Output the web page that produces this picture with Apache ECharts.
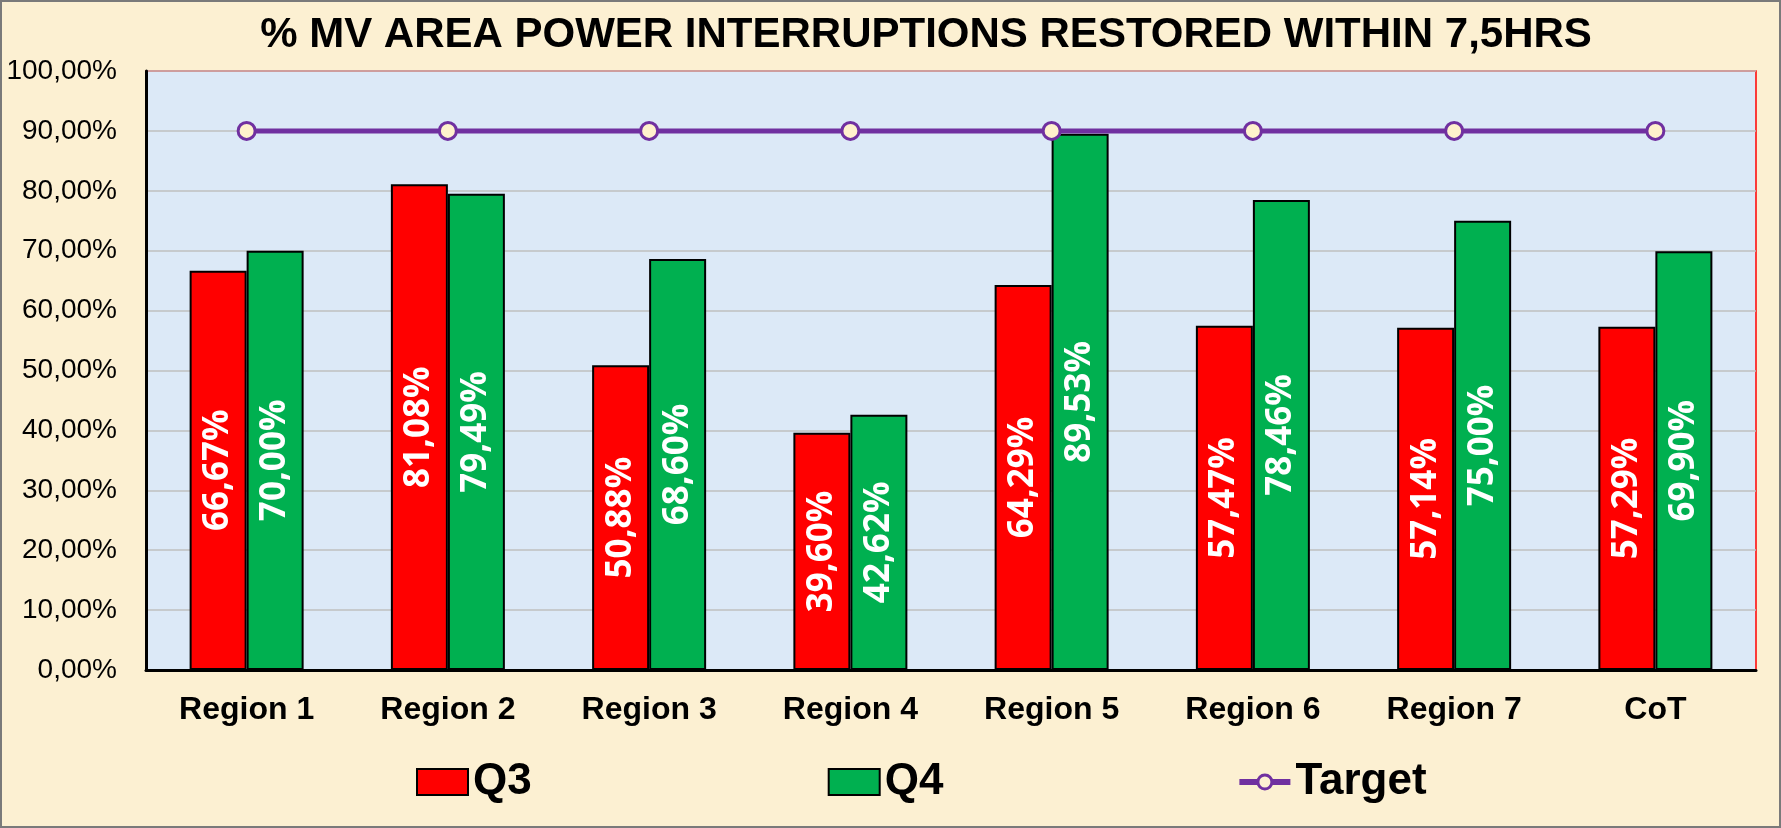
<!DOCTYPE html>
<html>
<head>
<meta charset="utf-8">
<script src="https://cdn.jsdelivr.net/npm/echarts@6/dist/echarts.min.js"></script>
<style>
  html, body { margin: 0; padding: 0; background: #fcf0d2; }
  #main { width: 1781px; height: 828px; position: relative; }
  #frame { position: absolute; left: 0; top: 0; width: 1781px; height: 828px;
           box-sizing: border-box; border: 2px solid #7a7a7a; pointer-events: none; }
</style>
</head>
<body>
<div style="position: relative; width: 1781px; height: 828px;">
  <div id="main"></div>
  <div id="frame"></div>
</div>
<script>
var regions = ["Region 1", "Region 2", "Region 3", "Region 4", "Region 5", "Region 6", "Region 7", "CoT"];
var q3 = [66.67, 81.08, 50.88, 39.60, 64.29, 57.47, 57.14, 57.29];
var q4 = [70.00, 79.49, 68.60, 42.62, 89.53, 78.46, 75.00, 69.90];
var target = [90, 90, 90, 90, 90, 90, 90, 90];

function pct(v) {
  return v.toFixed(2).replace(".", ",") + "%";
}

// legend icon for the target: thick line with a hollow ring in the middle (51x26 box)
var targetIcon = "path://M0 0Z M51 26Z " +
  "M0 10 L17.5 10 L17.5 16 L0 16 Z " +
  "M33.5 10 L51 10 L51 16 L33.5 16 Z " +
  "M17 13 A8.5 8.5 0 1 1 34 13 A8.5 8.5 0 1 1 17 13 Z " +
  "M20 13 A5.5 5.5 0 1 0 31 13 A5.5 5.5 0 1 0 20 13 Z";

var barLabel = {
  show: true,
  position: "inside",
  rotate: 90,
  color: "#fff",
  fontFamily: "Open Sans",
  fontStyle: "normal",
  fontWeight: "bold",
  fontSize: 35,
  formatter: function (p) { return pct(p.value); }
};

var myChart = echarts.init(document.getElementById("main"));
myChart.setOption({
  backgroundColor: "#fcf0d2",
  animation: false,
  title: {
    text: "% MV AREA POWER INTERRUPTIONS RESTORED WITHIN 7,5HRS",
    left: 921,
    textAlign: "center",
    top: 9,
    textStyle: { fontFamily: "Liberation Sans", fontWeight: "bold", fontSize: 42, color: "#000" }
  },
  legend: {
    left: 411,
    top: 755,
    itemGap: 296,
    itemWidth: 51,
    itemHeight: 26,
    textStyle: { fontFamily: "Liberation Sans", fontWeight: "bold", fontSize: 44, color: "#000" },
    data: [
      { name: "Q3", icon: "rect" },
      { name: "Q4", icon: "rect" },
      { name: "Target", icon: targetIcon, itemStyle: { color: "#7030a0", borderWidth: 0 } }
    ]
  },
  grid: {
    left: 146,
    right: 25,
    top: 71,
    bottom: 158,
    show: true,
    backgroundColor: "#dce9f7",
    borderColor: "#ff0000",
    borderWidth: 1.5
  },
  xAxis: {
    type: "category",
    data: regions,
    axisLine: { lineStyle: { color: "#000", width: 3 } },
    axisTick: { show: false },
    axisLabel: { margin: 24, fontFamily: "Liberation Sans", fontWeight: "bold", fontSize: 32, color: "#000" }
  },
  yAxis: {
    type: "value",
    min: 0,
    max: 100,
    interval: 10,
    axisLine: { show: true, lineStyle: { color: "#000", width: 3 } },
    axisTick: { show: false },
    splitLine: { lineStyle: { color: "#bfbfbf", width: 1.5 } },
    axisLabel: { margin: 29, fontFamily: "Liberation Sans", fontSize: 28, color: "#000",
                 formatter: function (v) { return pct(v); } }
  },
  series: [
    {
      name: "Q3",
      type: "bar",
      data: q3,
      barWidth: 57,
      barGap: "0%",
      itemStyle: { color: "#ff0000", borderColor: "#000", borderWidth: 2 },
      label: barLabel
    },
    {
      name: "Q4",
      type: "bar",
      data: q4,
      barWidth: 57,
      barGap: "0%",
      itemStyle: { color: "#00b050", borderColor: "#000", borderWidth: 2 },
      label: barLabel
    },
    {
      name: "Target",
      type: "line",
      data: target,
      z: 5,
      symbol: "circle",
      symbolSize: 17,
      lineStyle: { color: "#7030a0", width: 5 },
      itemStyle: { color: "#fff2cc", borderColor: "#7030a0", borderWidth: 3 }
    }
  ]
});
</script>
</body>
</html>
